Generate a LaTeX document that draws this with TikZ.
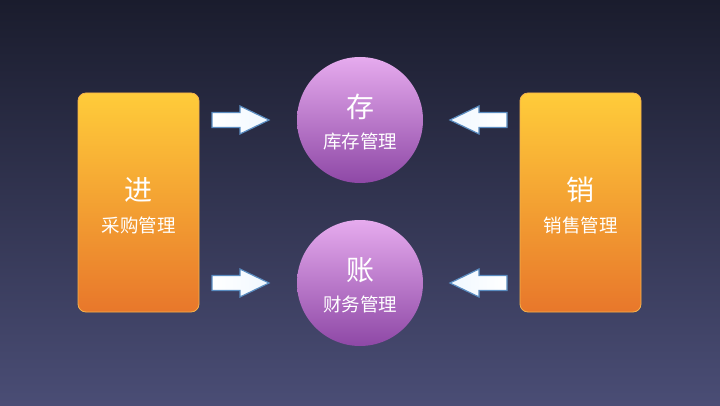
\documentclass[tikz,border=0pt]{standalone}
\usepackage{fontspec}
\newfontfamily\cjk{Noto Sans CJK SC}
\definecolor{bgtop}{HTML}{1A1C2D}
\definecolor{bgbot}{HTML}{4A4D75}
\definecolor{rtop}{HTML}{FFCC3A}
\definecolor{rbot}{HTML}{E8772B}
\definecolor{rborder}{HTML}{F6B24C}
\definecolor{ctop}{HTML}{E6ABEE}
\definecolor{cbot}{HTML}{8E48A6}
\definecolor{arrline}{HTML}{5A8CC0}
\definecolor{arrfill}{HTML}{F0F8FF}
\tikzset{
  pillar/.style={rectangle, rounded corners=8pt, minimum width=121pt, minimum height=219pt,
    top color=rtop, bottom color=rbot, draw=rborder, line width=0.8pt, inner sep=0pt},
  ball/.style={circle, minimum size=126pt, inner sep=0pt, top color=ctop, bottom color=cbot, draw=none},
  bigtxt/.style={text=white, font=\cjk\fontsize{28pt}{30pt}\selectfont, inner sep=0pt},
  smalltxt/.style={text=white, font=\cjk\fontsize{18.5pt}{20pt}\selectfont, inner sep=0pt},
  rarrow/.style={draw=arrline, line width=1.2pt, left color=white, right color=arrfill, line join=miter},
  larrow/.style={draw=arrline, line width=1.2pt, right color=white, left color=arrfill, line join=miter},
}
\begin{document}
\begin{tikzpicture}[x=1pt,y=1pt]
\useasboundingbox (0,0) rectangle (720,405);
\fill[top color=bgtop, bottom color=bgbot] (0,0) rectangle (720,405);
% pillars
\node[pillar] (jin) at (138.5,202.5) {};
\node[pillar] (xiao) at (580.5,202.5) {};
% circles
\node[ball] (cun) at (360,285) {};
\node[ball] (zhang) at (360,122) {};
% texts
\node[bigtxt] (jinT) at ([yshift=12.5pt]jin.center) {进};
\node[smalltxt] (jinS) at ([yshift=-22.5pt]jin.center) {采购管理};
\node[bigtxt] (xiaoT) at ([yshift=12.5pt]xiao.center) {销};
\node[smalltxt] (xiaoS) at ([yshift=-22.5pt]xiao.center) {销售管理};
\node[bigtxt] (cunT) at ([yshift=13pt]cun.center) {存};
\node[smalltxt] (cunS) at ([yshift=-21pt]cun.center) {库存管理};
\node[bigtxt] (zhangT) at ([yshift=13pt]zhang.center) {账};
\node[smalltxt] (zhangS) at ([yshift=-21pt]zhang.center) {财务管理};
% arrow anchors
\coordinate (a1) at (212,285);
\coordinate (a2) at (212,122);
\coordinate (a3) at (507,285);
\coordinate (a4) at (507,122);
% right-pointing arrows
\foreach \c in {a1,a2}{
  \path[rarrow] ([yshift=7.5pt]\c) -- ++(28,0) -- ++(0,6.5) -- ([xshift=57pt]\c) -- ++(-29,-14) -- ++(0,6.5) -- ([yshift=-7.5pt]\c) -- cycle;
}
% left-pointing arrows
\foreach \c in {a3,a4}{
  \path[larrow] ([yshift=7.5pt]\c) -- ++(-28,0) -- ++(0,6.5) -- ([xshift=-57pt]\c) -- ++(29,-14) -- ++(0,6.5) -- ([yshift=-7.5pt]\c) -- cycle;
}
\end{tikzpicture}
\end{document}
